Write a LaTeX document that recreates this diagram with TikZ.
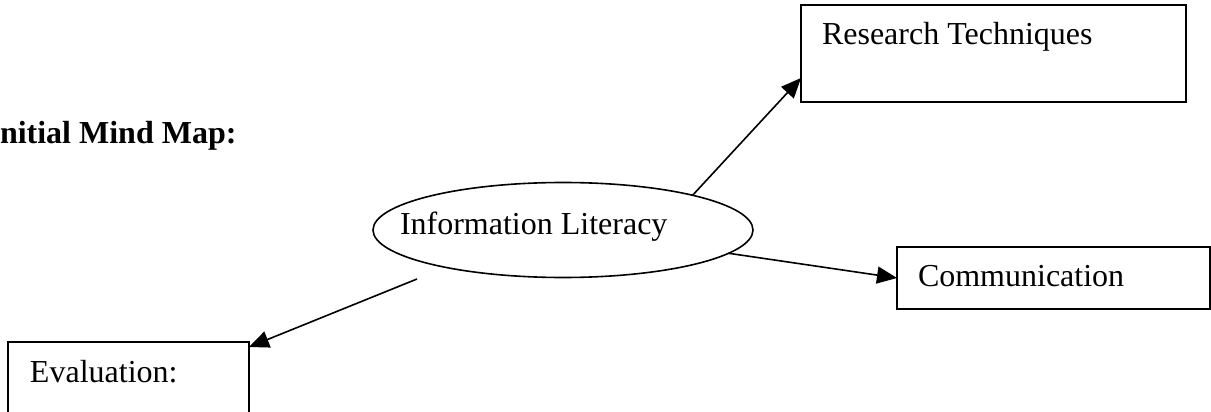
\documentclass[tikz,border=0pt]{standalone}
\usepackage{fontspec}
\setmainfont{Liberation Serif}
\usetikzlibrary{arrows.meta,calc,shapes.geometric}
\tikzset{
  mapbox/.style={draw, line width=1.6pt, rectangle, inner sep=0pt, outer sep=0pt},
  hub/.style={draw, ellipse, line width=1.6pt, minimum width=380pt, minimum height=95pt,
              inner sep=0pt, outer sep=0pt},
  caption/.style={font=\fontsize{32}{38}\selectfont, inner sep=0pt, outer sep=0pt, anchor=base west},
  link/.style={line width=1.6pt, -{Triangle[length=20pt,width=17pt]}}
}
\begin{document}
\begin{tikzpicture}[x=1pt,y=-1pt]
\clip (0,0) rectangle (1211,412);

% heading
\node[caption, font=\fontsize{32}{38}\selectfont\bfseries] (title) at (0,143) {nitial Mind Map:};

% central topic
\node[hub] (info) at (563,230) {};
\node[caption] (infotext) at (400,234) {Information Literacy};

% branch boxes
\node[mapbox, minimum width=385pt, minimum height=97pt,
      label={[caption, xshift=21pt, yshift=-40pt]north west:Research Techniques}] (rt) at (993.5,53.5) {};
\node[mapbox, minimum width=313pt, minimum height=62pt,
      label={[caption, xshift=21pt, yshift=-39pt]north west:Communication}] (comm) at (1053.5,278) {};
\node[mapbox, minimum width=241pt, minimum height=100pt,
      label={[caption, xshift=22pt, yshift=-40pt]north west:Evaluation:}] (ev) at (128.5,392) {};

% connectors
\coordinate (evstart) at (417,279);
\draw[link] (info.15) -- ($(rt.south west)+(0,-24)$);
\draw[link] (info.-8.5) -- (comm.west);
\draw[link] (evstart) -- ($(ev.north east)+(0,5)$);
\end{tikzpicture}
\end{document}
